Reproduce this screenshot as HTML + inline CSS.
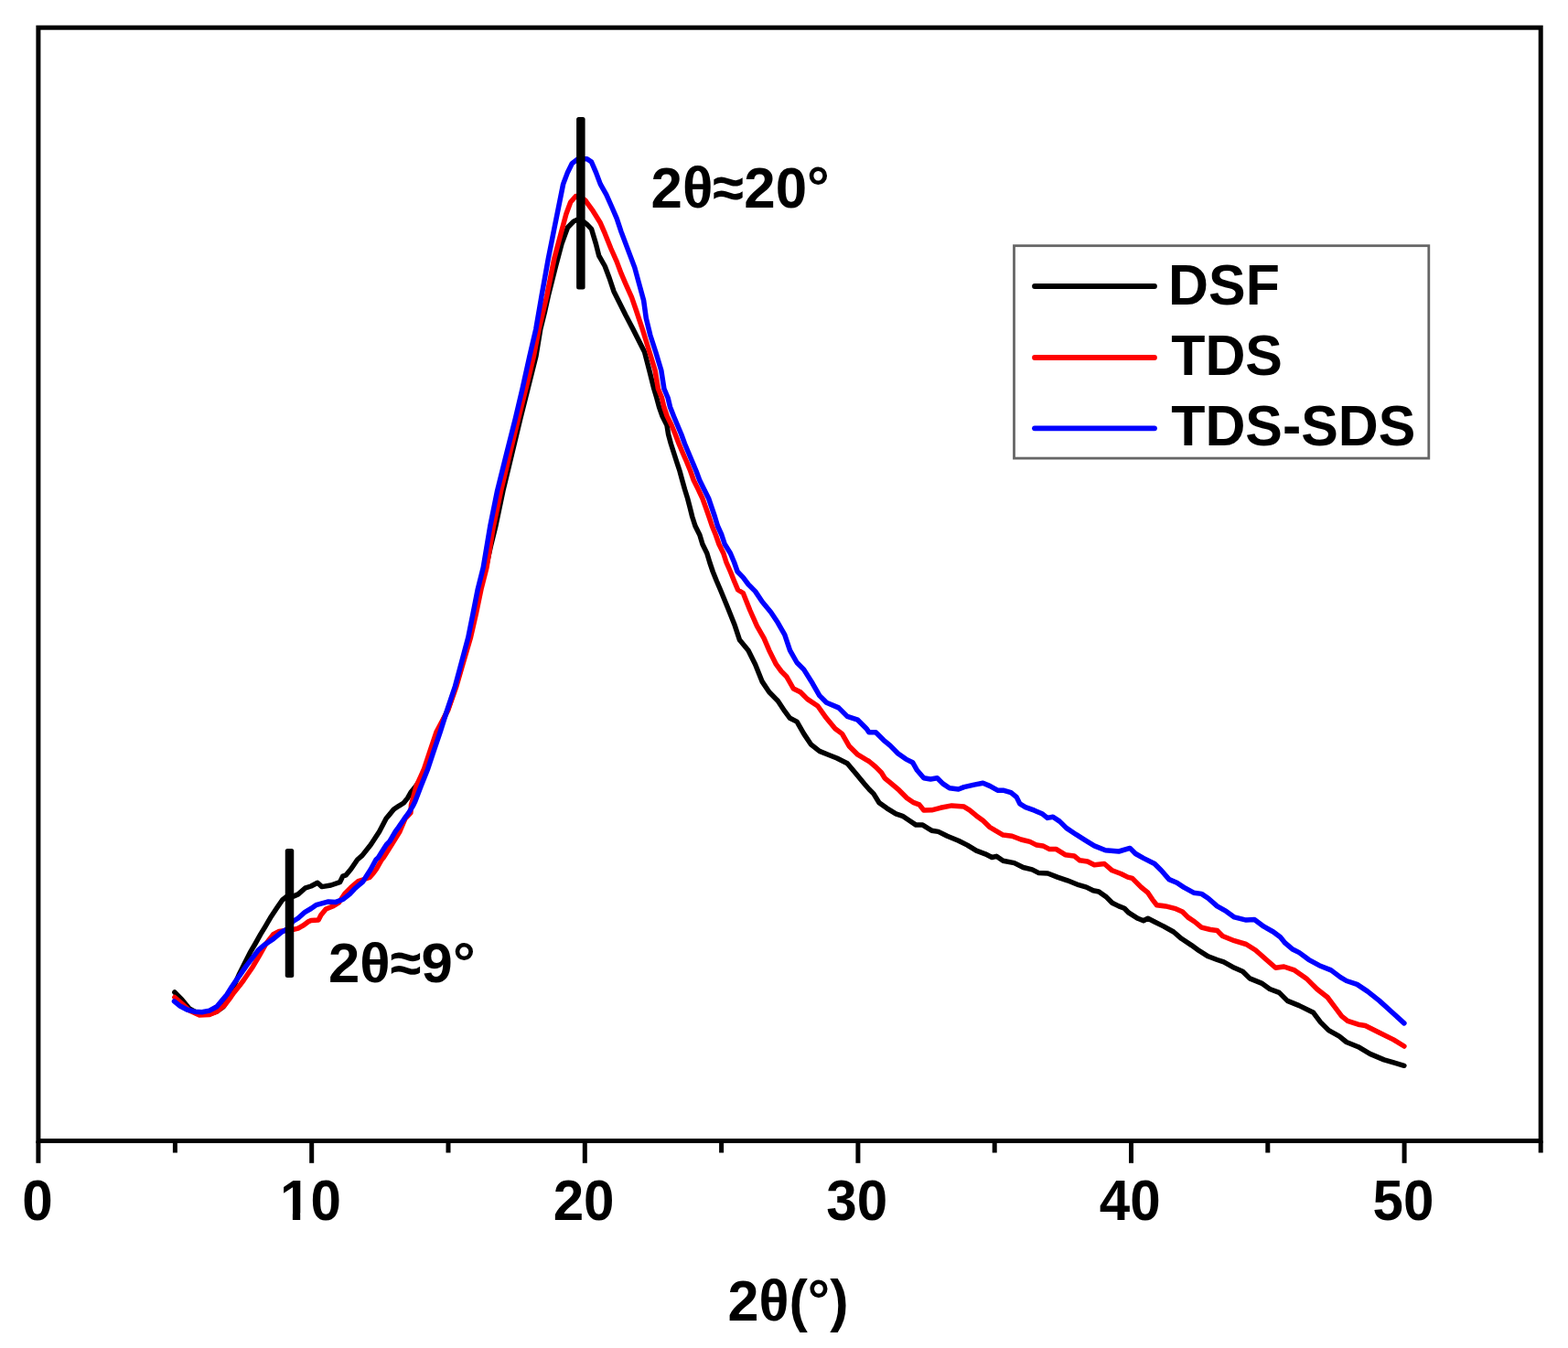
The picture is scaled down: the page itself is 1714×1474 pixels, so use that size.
<!DOCTYPE html>
<html><head><meta charset="utf-8"><style>
html,body{margin:0;padding:0;background:#fff;}
body{width:1714px;height:1474px;overflow:hidden;}
svg{display:block;}
text{font-family:"Liberation Sans",Arial,sans-serif;font-weight:bold;fill:#000;}
</style></head><body>
<svg width="1714" height="1474" viewBox="0 0 1714 1474">
<rect x="0" y="0" width="1714" height="1474" fill="#fff"/>
<g fill="none" stroke-linejoin="round" stroke-linecap="round" stroke-width="5.5">
<path stroke="#000" d="M190.9 1085.0L199.0 1093.2L207.0 1103.0L218.0 1109.0L229.0 1109.0L237.0 1106.0L244.0 1101.0L250.0 1091.0L256.0 1077.5L261.0 1066.3L267.1 1054.1L273.2 1041.9L279.3 1031.5L284.8 1021.7L290.3 1012.6L296.4 1002.2L302.5 993.0L308.7 984.0L314.7 979.4L320.7 980.1L325.9 977.9L333.4 971.2L340.0 969.0L347.1 965.3L351.9 969.6L361.7 968.0L371.5 964.7L374.7 958.2L378.1 957.0L383.7 950.2L390.7 940.0L396.0 935.4L405.4 923.5L414.7 909.2L422.1 895.0L425.0 891.6L430.4 885.0L435.9 881.3L441.3 878.0L445.6 872.6L449.0 866.5L453.5 861.0L461.3 850.0L465.5 840.0L468.8 830.0L472.1 820.0L475.5 810.0L478.8 800.0L484.2 788.0L489.4 776.4L494.0 763.0L498.4 750.0L502.4 736.0L505.9 723.5L509.7 710.0L513.4 697.0L516.2 684.0L519.1 670.6L521.9 657.0L524.5 644.1L527.6 632.0L531.2 620.6L536.5 597.0L541.7 575.9L549.9 536.6L559.4 497.2L568.8 457.9L577.2 424.4L586.0 389.0L590.8 359.8L595.7 340.0L599.3 323.6L607.5 291.0L614.0 266.6L620.5 248.7L627.0 242.1L633.5 238.9L641.7 245.4L646.5 250.3L651.4 266.6L654.7 279.6L661.2 291.0L666.1 304.0L671.0 318.7L677.5 331.7L684.0 344.8L692.2 360.4L704.6 385.0L709.8 405.0L714.8 425.0L717.8 435.0L720.5 445.0L724.0 455.0L729.0 465.0L730.6 475.0L733.3 485.0L736.5 495.0L739.7 505.0L743.0 515.0L745.7 525.0L748.5 535.0L751.6 545.0L754.2 555.0L756.7 565.0L759.9 575.0L764.9 585.0L767.9 595.0L772.8 605.0L775.8 615.0L779.2 625.0L783.2 635.0L787.5 645.0L795.2 663.7L802.8 682.7L808.5 699.8L818.0 711.2L825.6 726.4L833.2 745.4L840.8 756.8L850.2 766.3L857.8 777.7L863.5 785.3L871.1 789.1L878.7 802.4L886.3 813.8L895.8 821.4L905.3 825.2L914.8 829.0L926.2 834.7L935.7 846.1L945.2 857.5L950.0 863.0L954.9 867.9L961.0 877.7L969.5 883.8L979.3 889.9L986.6 892.3L994.0 897.2L1001.3 902.1L1008.6 902.1L1018.4 908.2L1025.7 909.4L1035.5 914.3L1047.7 919.2L1057.4 924.1L1067.2 930.2L1077.0 933.8L1084.3 937.5L1089.2 936.3L1096.5 941.2L1108.7 943.6L1118.5 948.5L1128.3 950.9L1135.6 954.6L1145.4 955.0L1155.9 959.1L1166.9 962.8L1179.1 967.7L1187.6 970.1L1194.9 973.8L1201.1 975.0L1209.6 981.1L1215.7 987.2L1223.0 990.9L1229.1 993.3L1234.0 998.2L1243.8 1004.3L1249.9 1006.8L1254.8 1004.3L1262.1 1008.0L1271.9 1012.9L1282.9 1019.0L1291.4 1026.3L1302.4 1033.6L1310.9 1039.7L1320.7 1045.8L1330.5 1049.5L1337.7 1051.9L1349.3 1058.3L1358.4 1062.2L1366.1 1069.9L1379.0 1075.1L1388.0 1081.5L1398.3 1085.4L1407.3 1094.4L1420.2 1099.6L1435.7 1107.3L1443.4 1117.6L1452.4 1126.6L1464.0 1133.1L1471.8 1139.5L1484.7 1144.7L1497.6 1152.4L1513.0 1158.9L1525.9 1162.7L1534.9 1165.3"/>
<path stroke="#f00" d="M190.9 1090.5L199.0 1097.5L207.1 1105.1L218.0 1110.0L228.9 1109.5L237.0 1106.2L245.1 1099.7L250.6 1092.6L256.0 1085.0L262.2 1077.3L266.5 1071.5L270.1 1066.3L276.3 1057.2L283.4 1045.0L290.8 1032.0L298.8 1021.7L305.0 1018.5L312.0 1017.5L319.9 1016.7L325.9 1015.2L331.1 1012.2L337.1 1007.8L340.0 1006.5L348.1 1006.0L350.9 1000.5L356.3 994.0L364.4 990.8L370.4 987.0L376.9 977.2L383.4 970.7L391.6 963.6L398.0 961.5L404.0 959.5L408.0 955.0L411.5 950.2L417.3 940.0L419.2 937.7L428.2 923.5L437.0 909.2L443.0 895.0L448.9 888.9L449.5 880.0L452.0 871.0L455.0 859.7L459.5 850.0L463.6 840.7L469.9 821.7L477.2 800.0L489.8 776.4L499.0 750.0L506.7 723.5L514.5 697.0L520.5 670.6L526.0 644.1L532.0 620.6L539.3 575.9L547.6 536.6L557.0 497.2L566.6 457.9L575.0 424.4L583.5 389.0L589.1 359.8L597.7 323.6L605.8 282.9L612.3 258.4L618.9 234.0L623.7 221.0L629.4 214.5L634.0 215.0L640.0 219.3L648.2 230.7L656.3 243.8L661.2 255.2L667.7 271.5L674.2 286.1L679.1 299.2L684.0 310.6L690.5 325.2L695.3 339.0L702.4 360.4L710.0 385.0L716.1 405.0L719.4 425.0L723.5 435.0L725.8 445.0L729.2 455.0L734.1 465.0L738.2 475.0L742.0 485.0L746.2 495.0L750.6 505.0L754.7 515.0L758.2 525.0L763.2 535.0L767.9 545.0L771.5 555.0L775.0 565.0L778.3 575.0L782.4 585.0L785.9 595.0L790.8 605.0L794.0 615.0L798.4 625.0L802.4 635.0L806.6 645.0L812.3 648.5L819.9 667.5L827.5 684.6L835.1 697.9L840.8 711.2L848.4 726.4L854.0 734.0L859.7 739.7L867.3 753.0L874.9 756.8L882.5 764.4L893.9 772.0L903.4 785.3L912.9 796.7L920.5 802.4L928.1 815.7L937.6 825.2L947.1 830.9L950.0 832.5L957.3 838.6L963.4 844.7L967.1 850.8L974.4 856.9L983.0 864.2L991.5 872.8L998.8 877.7L1004.9 879.9L1009.8 886.0L1018.4 885.8L1028.1 883.3L1040.4 880.9L1053.8 882.1L1059.9 885.8L1067.2 891.9L1074.5 897.2L1081.9 904.5L1088.0 908.2L1096.5 913.1L1106.3 914.3L1116.1 918.0L1125.8 920.4L1133.2 924.1L1140.0 924.9L1147.3 928.6L1154.7 928.6L1164.4 934.7L1174.2 935.9L1180.3 940.8L1188.8 942.0L1196.2 945.7L1207.2 944.5L1215.7 951.8L1225.5 955.5L1232.8 959.1L1237.7 960.4L1247.4 970.1L1254.8 976.2L1259.7 983.6L1264.5 989.7L1274.3 990.9L1284.1 993.3L1292.6 997.0L1298.7 1003.1L1306.0 1008.0L1313.4 1014.1L1323.1 1016.5L1330.5 1017.5L1336.4 1023.5L1349.3 1028.7L1362.2 1032.5L1372.5 1039.0L1384.1 1049.3L1394.4 1058.3L1403.5 1057.0L1415.1 1060.9L1428.0 1069.9L1439.6 1081.5L1451.1 1090.5L1458.9 1100.9L1466.6 1111.2L1473.1 1116.3L1484.7 1120.2L1492.4 1121.5L1507.9 1129.2L1523.3 1136.9L1534.9 1144.0"/>
<path stroke="#00f" d="M190.5 1094.8L196.3 1099.7L204.4 1104.0L212.6 1106.2L220.7 1106.7L228.9 1105.1L237.0 1100.8L242.4 1094.3L247.9 1087.7L253.7 1078.5L258.5 1071.5L262.2 1066.3L269.5 1055.9L276.9 1046.2L282.4 1038.8L289.7 1032.7L298.8 1026.6L308.6 1018.7L314.0 1016.0L319.9 1007.8L325.9 1004.0L333.4 997.3L340.0 993.5L345.4 989.7L359.0 985.9L367.1 986.4L375.3 983.2L382.3 977.7L387.2 972.3L392.1 968.0L396.7 964.1L400.5 958.0L405.0 951.0L411.0 940.0L413.5 937.7L418.0 930.5L422.5 923.5L426.0 920.0L432.3 909.2L435.3 905.1L442.2 895.0L446.7 888.9L451.5 881.0L453.9 876.0L460.1 859.7L467.7 840.7L474.0 821.7L481.3 800.0L488.8 776.4L497.6 750.0L504.7 723.5L511.8 697.0L517.1 670.6L522.3 644.1L528.2 620.6L535.7 575.9L543.6 536.6L553.4 497.2L563.3 457.9L571.2 424.4L579.0 389.0L585.8 359.8L592.0 323.6L599.3 282.9L605.8 250.3L610.7 225.9L615.6 201.4L620.5 188.4L625.4 178.6L631.9 173.7L641.7 173.7L646.5 177.0L651.4 188.4L656.3 201.4L662.8 212.8L669.3 227.5L674.2 238.9L679.1 253.6L684.0 266.6L688.9 279.6L693.8 292.6L698.7 310.6L703.6 328.5L706.3 348.0L710.8 366.5L716.8 385.0L722.8 405.0L725.9 425.0L730.1 435.0L732.5 445.0L736.4 455.0L740.6 465.0L744.8 475.0L748.4 485.0L752.6 495.0L756.8 505.0L761.0 515.0L764.7 525.0L769.6 535.0L774.6 545.0L778.0 555.0L781.4 565.0L784.4 575.0L788.9 585.0L792.2 595.0L798.4 605.0L802.6 615.0L806.1 625.0L812.3 631.4L818.0 639.0L825.6 646.6L833.2 658.0L842.7 669.4L850.2 680.8L857.8 694.1L863.5 711.2L871.1 724.5L878.7 732.1L888.2 747.3L895.8 760.6L903.4 768.2L916.7 773.9L926.2 783.4L937.6 787.2L947.1 796.7L950.0 800.8L957.3 800.8L965.9 809.3L973.2 815.4L981.7 824.0L990.3 830.1L997.6 833.7L1002.5 842.3L1009.8 850.8L1017.2 852.0L1024.5 850.8L1030.6 856.9L1037.9 861.8L1047.7 863.0L1053.8 860.6L1064.8 858.1L1074.5 856.3L1081.9 859.4L1090.4 864.2L1096.5 864.2L1105.1 866.7L1111.2 871.6L1114.8 878.9L1120.9 882.6L1130.7 886.2L1139.0 889.7L1144.9 894.4L1151.0 893.2L1158.3 898.1L1165.6 905.4L1176.6 912.7L1186.4 918.8L1196.2 924.9L1208.4 929.8L1223.0 931.0L1235.2 927.4L1241.3 933.5L1249.9 938.4L1262.1 944.5L1269.4 951.8L1278.0 961.6L1286.5 965.2L1293.8 970.1L1304.8 976.2L1313.4 977.4L1320.7 982.3L1330.5 990.9L1340.3 996.4L1349.3 1002.9L1362.2 1006.1L1371.2 1005.5L1381.6 1013.2L1391.9 1019.0L1399.6 1024.8L1404.8 1031.2L1412.5 1037.7L1420.2 1041.6L1430.5 1049.3L1442.1 1055.7L1455.0 1060.9L1465.3 1068.6L1471.8 1072.5L1483.4 1076.4L1495.0 1084.1L1507.9 1094.4L1520.7 1106.0L1534.9 1118.9"/>
</g>
<rect x="311.75" y="928" width="9.5" height="141" rx="2.5" fill="#000"/>
<rect x="630.1" y="128" width="9.5" height="188.5" rx="2.5" fill="#000"/>
<rect x="41.9" y="30.2" width="1642.3" height="1217.3" fill="none" stroke="#000" stroke-width="5.0"/>
<g stroke="#000" stroke-width="5.0">
<line x1="41.9" y1="1247.5" x2="41.9" y2="1271.8"/><line x1="191.4" y1="1247.5" x2="191.4" y2="1260.5"/><line x1="340.7" y1="1247.5" x2="340.7" y2="1271.8"/><line x1="490.0" y1="1247.5" x2="490.0" y2="1260.5"/><line x1="639.3" y1="1247.5" x2="639.3" y2="1271.8"/><line x1="788.6" y1="1247.5" x2="788.6" y2="1260.5"/><line x1="937.9" y1="1247.5" x2="937.9" y2="1271.8"/><line x1="1087.2" y1="1247.5" x2="1087.2" y2="1260.5"/><line x1="1236.5" y1="1247.5" x2="1236.5" y2="1271.8"/><line x1="1385.8" y1="1247.5" x2="1385.8" y2="1260.5"/><line x1="1535.1" y1="1247.5" x2="1535.1" y2="1271.8"/><line x1="1684.2" y1="1247.5" x2="1684.2" y2="1260.5"/>
</g>
<g font-size="63" text-anchor="middle">
<text transform="translate(40.9 1334.4) scale(0.955 1)">0</text><text transform="translate(339.5 1334.4) scale(0.955 1)">10</text><text transform="translate(638.1 1334.4) scale(0.955 1)">20</text><text transform="translate(936.7 1334.4) scale(0.955 1)">30</text><text transform="translate(1235.3 1334.4) scale(0.955 1)">40</text><text transform="translate(1533.9 1334.4) scale(0.955 1)">50</text>
</g>
<g fill="#fff"><rect x="308.5" y="1326.6" width="11.4" height="8"/><rect x="328.2" y="1326.6" width="10.4" height="8"/></g>
<text transform="translate(861.5 1443.5) scale(1 1.04)" font-size="61" text-anchor="middle">2θ(°)</text>
<text transform="translate(711.5 226.5) scale(1.014 1.04)" font-size="61">2θ≈20°</text>
<text transform="translate(359 1073.7) scale(1.012 1.015)" font-size="61">2θ≈9°</text>
<rect x="1108.5" y="268.7" width="453.3" height="232.4" fill="none" stroke="#666" stroke-width="2.8"/>
<g stroke-width="5.8" stroke-linecap="round">
<line x1="1131" y1="313" x2="1262" y2="313" stroke="#000"/>
<line x1="1131" y1="391" x2="1262" y2="391" stroke="#f00"/>
<line x1="1131" y1="468.3" x2="1262" y2="468.3" stroke="#00f"/>
</g>
<g font-size="60">
<text transform="translate(1277.1 332.6) scale(1.015 1.065)">DSF</text>
<text transform="translate(1280.2 409.8) scale(1.015 1.065)">TDS</text>
<text transform="translate(1280.2 487.2) scale(1.015 1.065)">TDS-SDS</text>
</g>
</svg>
</body></html>
